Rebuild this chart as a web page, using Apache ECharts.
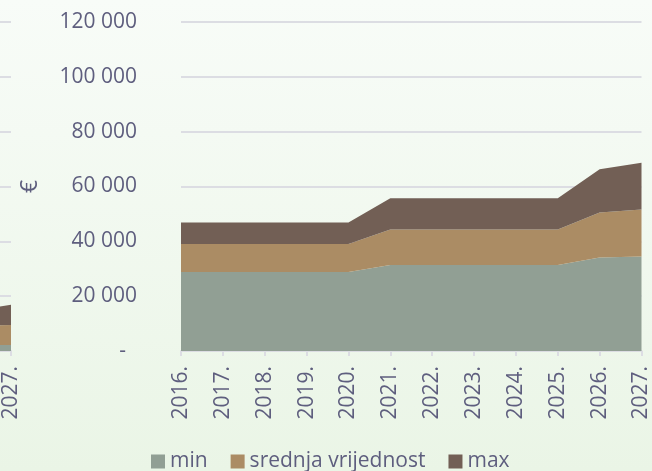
<!DOCTYPE html>
<html>
<head>
<meta charset="utf-8">
<script src="https://cdn.jsdelivr.net/npm/echarts@6/dist/echarts.min.js"></script>
<style>
  html, body { margin: 0; padding: 0; }
  body { background: linear-gradient(to bottom, #f8fcf8 0%, #eaf5e6 100%); }
  #chart { width: 652px; height: 471px; }
</style>
</head>
<body>
<div id="chart"></div>
<script>
// main chart
const years = ['2016.', '2017.', '2018.', '2019.', '2020.', '2021.', '2022.', '2023.', '2024.', '2025.', '2026.', '2027.'];
const minVals = [28800, 28800, 28800, 28800, 28800, 31400, 31400, 31400, 31400, 31400, 34100, 34500];
const srednjaVals = [10200, 10200, 10200, 10200, 10200, 12900, 12900, 12900, 12900, 12900, 16400, 17100];
const maxVals = [7900, 7900, 7900, 7900, 7900, 11400, 11400, 11400, 11400, 11400, 15800, 17100];

// cut-off neighbour chart on the left edge
const prevYears = ['2026.', '2027.'];
const prevMin = [2200, 2200];
const prevSrednja = [7200, 7300];
const prevMax = [6800, 7400];

const yTicks = [0, 20000, 40000, 60000, 80000, 100000, 120000];

const textColor = '#5e5e7e';
const lineColor = '#dcdde3';
const colors = ['#919f94', '#ab8c64', '#725f55'];
const font = '"Open Sans", sans-serif';
const fs = 21;

const chart = echarts.init(document.getElementById('chart'));

const fmt = (v) => v === 0 ? '-  ' : String(v).replace(/\B(?=(\d{3})+(?!\d))/g, ' ');

const xAxisBase = {
  type: 'category',
  boundaryGap: false,
  axisLine: { lineStyle: { color: lineColor, width: 2 } },
  axisTick: { show: true, length: 5, lineStyle: { color: lineColor, width: 2 } },
  axisLabel: { rotate: 90, color: textColor, fontSize: fs, fontFamily: font, margin: 15 },
};

const yAxisBase = {
  type: 'value',
  min: yTicks[0],
  max: yTicks[yTicks.length - 1],
  interval: 20000,
  axisLine: { show: false },
  axisTick: { show: false },
  splitLine: { lineStyle: { color: lineColor, width: 2 } },
};

const areaSeries = (name, data, idx, axisIdx, stack) => ({
  name,
  type: 'line',
  stack,
  data,
  xAxisIndex: axisIdx,
  yAxisIndex: axisIdx,
  symbol: 'none',
  lineStyle: { width: 0 },
  areaStyle: { color: colors[idx], opacity: 1 },
  itemStyle: { color: colors[idx] },
});

chart.setOption({
  animation: false,
  backgroundColor: 'transparent',
  textStyle: { fontFamily: font },
  legend: {
    top: 446,
    left: 146,
    itemWidth: 14,
    itemHeight: 14,
    itemGap: 23,
    icon: 'rect',
    textStyle: { color: textColor, fontSize: fs, fontFamily: font },
    data: ['min', 'srednja vrijednost', 'max'],
  },
  grid: [
    { left: 181, right: 9, top: 22, bottom: 120 },
    { left: 0, right: 641, top: 22, bottom: 120 },
  ],
  xAxis: [
    Object.assign({}, xAxisBase, { gridIndex: 0, data: years }),
    Object.assign({}, xAxisBase, {
      gridIndex: 1,
      data: prevYears,
      axisLabel: Object.assign({}, xAxisBase.axisLabel, { interval: (i) => i === 1 }),
    }),
  ],
  yAxis: [
    Object.assign({}, yAxisBase, {
      gridIndex: 0,
      name: '€',
      nameLocation: 'middle',
      nameGap: 139,
      nameRotate: 90,
      nameTextStyle: { color: textColor, fontSize: 23, fontFamily: font },
      axisLabel: { color: textColor, fontSize: fs, fontFamily: font, margin: 44, formatter: fmt },
    }),
    Object.assign({}, yAxisBase, { gridIndex: 1, axisLabel: { show: false } }),
  ],
  series: [
    areaSeries('min', minVals, 0, 0, 'a'),
    areaSeries('srednja vrijednost', srednjaVals, 1, 0, 'a'),
    areaSeries('max', maxVals, 2, 0, 'a'),
    areaSeries('min', prevMin, 0, 1, 'b'),
    areaSeries('srednja vrijednost', prevSrednja, 1, 1, 'b'),
    areaSeries('max', prevMax, 2, 1, 'b'),
  ],
});
</script>
</body>
</html>
